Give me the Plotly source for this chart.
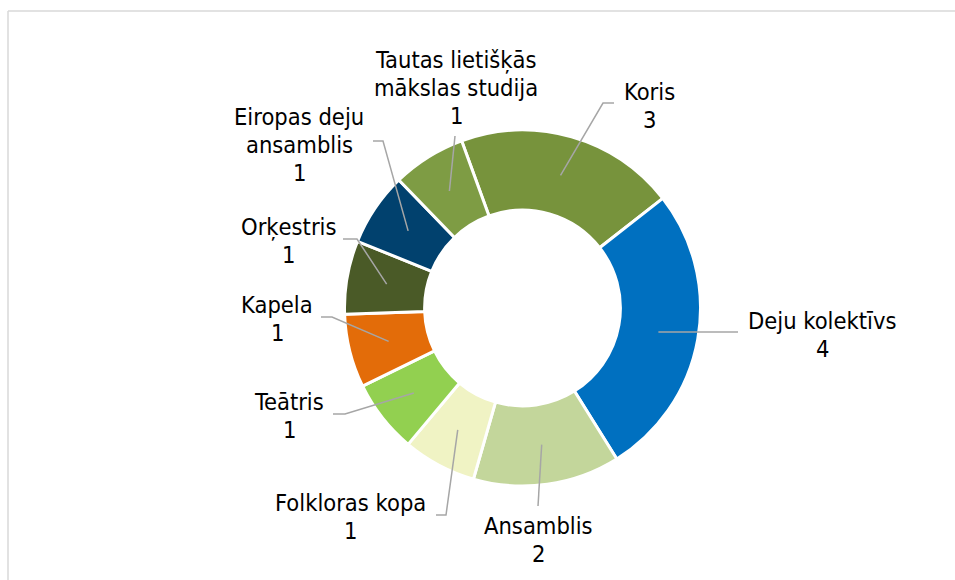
import math
import plotly.graph_objects as go

# ---------------- data ----------------
categories = ["Koris", "Deju kolektīvs", "Ansamblis", "Folkloras kopa", "Teātris",
              "Kapela", "Orķestris", "Eiropas deju ansamblis",
              "Tautas lietišķās mākslas studija"]
counts = [3, 4, 2, 1, 1, 1, 1, 1, 1]
label_lines = [["Koris"], ["Deju kolektīvs"], ["Ansamblis"], ["Folkloras kopa"],
               ["Teātris"], ["Kapela"], ["Orķestris"], ["Eiropas deju", "ansamblis"],
               ["Tautas lietišķās", "mākslas studija"]]

# ---------------- style / layout ----------------
colors = ["#77933C", "#0070C0", "#C3D69B", "#F0F3C4", "#92D050",
          "#E36C09", "#4A5A27", "#01416E", "#7E9C44"]
W, H = 955, 580
CX, CY, R = 522.5, 308.0, 178.0
HOLE = 0.55
ROT = -20
FS = 23.5
LINE_GAP = 28
FONT = "DejaVu Sans Condensed, Liberation Sans, Arial, sans-serif"
# label block position: (center x, first baseline y) and leader-line bend points
label_pos = [(649, 100), (822, 329), (538, 534), (350, 511), (289, 410),
             (277, 313), (288.5, 235), (299, 125), (456, 68)]
leader_pts = [[(603, 103), (614, 103)], [(738, 332)], [(538, 506)],
              [(446, 515), (436, 515)], [(345, 414), (333, 414)],
              [(332, 317), (321, 317)], [(357, 239), (343, 239)],
              [(383, 141), (373, 141)], [(455, 136)]]

fig = go.Figure()
fig.add_trace(go.Pie(
    labels=categories, values=counts, hole=HOLE, sort=False,
    direction="clockwise", rotation=ROT,
    marker=dict(colors=colors, line=dict(color="white", width=3)),
    textinfo="none", hoverinfo="label+value", showlegend=False,
    domain=dict(x=[(CX - R) / W, (CX + R) / W],
                y=[1 - (CY + R) / H, 1 - (CY - R) / H]),
))

shapes = []
annotations = []
total = sum(counts)
acc = 0.0
mid_r = R * (1 + HOLE) / 2
for i, v in enumerate(counts):
    mid = math.radians(ROT + 360 * (acc + v / 2) / total)
    acc += v
    x0 = CX + mid_r * math.sin(mid)
    y0 = CY - mid_r * math.cos(mid)
    path = f"M {x0:.2f},{y0:.2f}" + "".join(f" L {px},{py}" for px, py in leader_pts[i])
    shapes.append(dict(type="path", xref="x", yref="y", path=path,
                       line=dict(color="#A6A6A6", width=1.5), layer="above"))
    lx, ly = label_pos[i]
    lines = label_lines[i] + [str(v)]
    for j, t in enumerate(lines):
        annotations.append(dict(x=lx, y=ly + j * LINE_GAP - 0.35 * FS, xref="x", yref="y",
                                text=t, showarrow=False, xanchor="center",
                                yanchor="middle",
                                font=dict(family=FONT, size=FS, color="#000000")))

# chart frame
shapes.append(dict(type="line", xref="x", yref="y", x0=8, x1=W + 5, y0=11, y1=11,
                   line=dict(color="#D9D9D9", width=1.5), layer="above"))
shapes.append(dict(type="line", xref="x", yref="y", x0=8, x1=8, y0=11, y1=H + 5,
                   line=dict(color="#D9D9D9", width=1.5), layer="above"))

fig.update_layout(
    width=W, height=H, margin=dict(l=0, r=0, t=0, b=0),
    paper_bgcolor="white", plot_bgcolor="rgba(0,0,0,0)",
    xaxis=dict(range=[0, W], visible=False, domain=[0, 1], fixedrange=True),
    yaxis=dict(range=[H, 0], visible=False, domain=[0, 1], fixedrange=True),
    shapes=shapes, annotations=annotations, showlegend=False,
)
fig.write_html("out.html",
               config={"displayModeBar": False},
               post_script="document.body.style.margin='0';"
                           "document.body.style.overflow='hidden';")
